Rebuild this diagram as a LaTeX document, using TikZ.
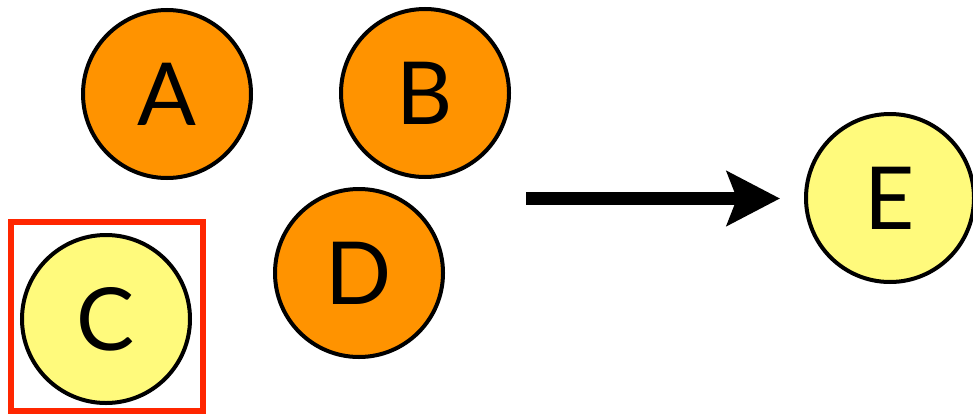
\documentclass[tikz,border=0pt]{standalone}
\usepackage{fontspec}
\setmainfont{Lato}
\usetikzlibrary{arrows.meta}
\definecolor{orng}{HTML}{FF9300}
\definecolor{yel}{HTML}{FFFA7C}
\definecolor{redbox}{HTML}{FF2600}
\begin{document}
\begin{tikzpicture}[x=1pt,y=-1pt,
  ball/.style={circle,draw=black,line width=4pt,minimum size=168pt,inner sep=0pt,
    text height=62pt,text depth=0pt,
    font=\fontsize{87}{87}\selectfont},
  orangeball/.style={ball,fill=orng},
  yellowball/.style={ball,fill=yel}]
\useasboundingbox (0,0) rectangle (973,415);
\node[orangeball] (A) at (167,94) {A};
\node[orangeball] (B) at (425,93) {B};
\node[orangeball] (D) at (359,273) {D};
\node[yellowball] (C) at (106,319) {C};
\node[yellowball] (E) at (890,198) {E};
\node[draw=redbox,line width=6pt,minimum width=192pt,minimum height=189pt,inner sep=0pt] (box) at (107,316.5) {};
\coordinate (s) at (526,198.5);
\coordinate (t) at (780,198.5);
\draw[line width=13pt,-{Stealth[length=53pt,width=54pt,inset=10pt]}] (s) -- (t);
\end{tikzpicture}
\end{document}
